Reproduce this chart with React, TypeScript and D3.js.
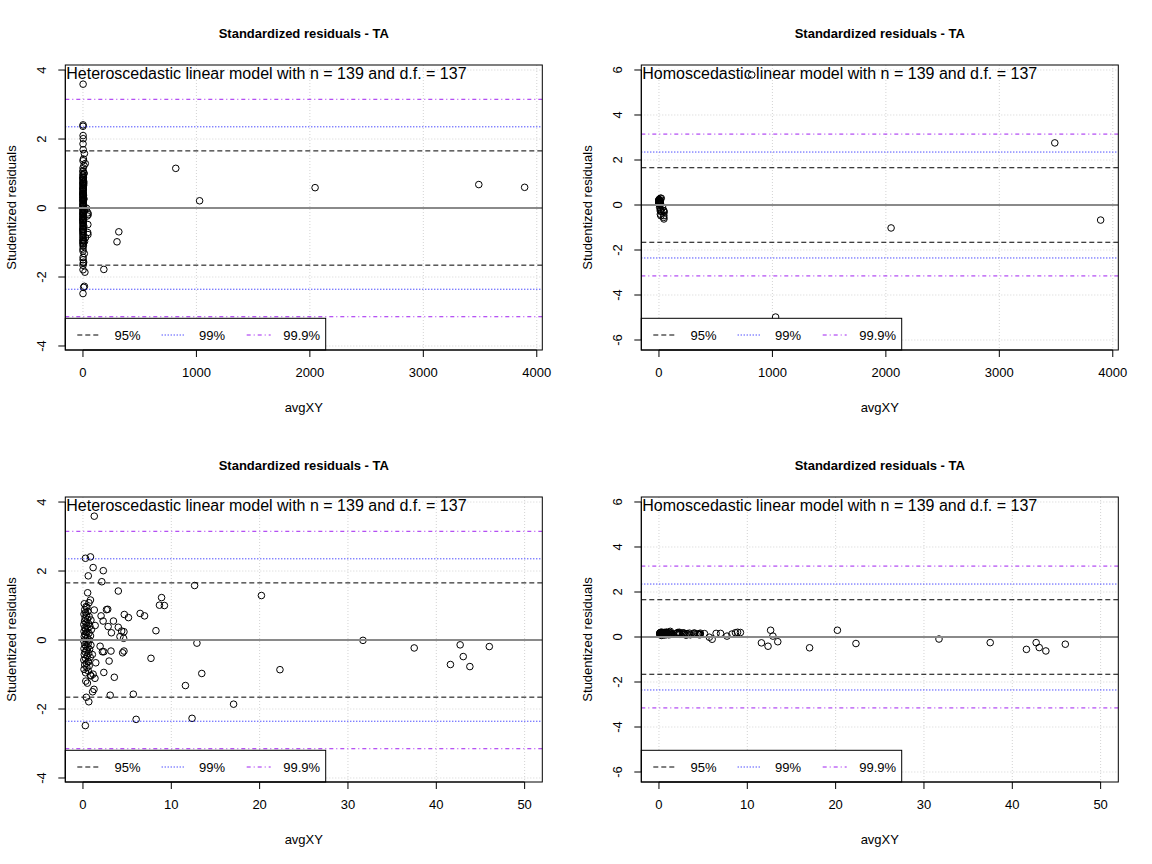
import React from "react";
import * as d3 from "d3";

// ---------- data ----------
const avgXY = [
  184, 300, 316, 818, 1028, 2046, 3489, 3893,
  4.0, 12.64, 8.9, 8.66, 9.22, 6.47, 6.97, 4.68, 5.15, 3.45, 8.26, 4.0, 2.85, 3.22, 4.38, 4.64, 4.19, 4.6, 12.9, 3.17, 4.49, 4.64, 7.7, 2.96, 3.55, 11.6, 5.7, 3.08, 6.02, 12.35, 20.2, 13.45, 22.3, 17.05, 31.7, 37.5, 42.7, 46.0, 43.05, 41.6, 43.8,
  2.3, 2.13, 2.05, 2.28, 1.94, 2.2, 2.36, 2.36, 2.66, 2.8,
  1.28, 0.28, 0.85, 1.15, 0.6, 0.53, 0.85, 0.68, 0.35, 1.28, 0.3, 1.38, 1.06, 0.6, 1.45, 1.15, 0.9, 1.36, 0.32, 0.5, 1.25, 1.09, 0.38, 0.66, 0.27,
  0.15, 0.45, 0.2, 0.55, 0.12, 0.4, 0.7, 0.25, 0.5, 0.9, 0.18, 0.35, 0.62, 0.1, 0.42, 0.78, 0.22, 0.55, 0.3, 0.95, 0.12, 0.45, 0.68, 0.25, 0.85, 0.15, 0.5, 0.35, 0.72, 0.1, 0.45, 0.6, 0.2, 0.9, 0.32, 0.55, 0.12, 0.75, 0.4, 0.25, 0.65, 0.15, 0.48, 0.82, 0.3, 0.1, 0.58, 0.38, 0.2, 0.7, 0.45, 0.12, 0.6, 0.3, 0.85,
];
const residHetero = [
  -1.78, -0.98, -0.69, 1.15, 0.21, 0.59, 0.68, 0.6,
  1.42, 1.58, 1.23, 1.01, 1.0, 0.77, 0.7, 0.74, 0.65, 0.55, 0.27, 0.37, 0.39, 0.21, 0.26, 0.24, 0.1, 0.05, -0.09, -0.32, -0.37, -0.32, -0.53, -0.61, -1.08, -1.32, -1.57, -1.6, -2.3, -2.27, 1.29, -0.97, -0.86, -1.86, -0.01, -0.23, -0.14, -0.19, -0.48, -0.71, -0.77,
  2.01, 1.69, 0.7, 0.55, -0.18, -0.34, -0.34, -0.94, 0.88, 0.89,
  3.59, 2.37, 2.41, 2.1, 1.86, 1.37, 1.16, 1.08, 0.97, 0.87, 0.8, 0.42, -0.42, -0.63, -0.66, -0.99, -1.04, -1.11, -1.19, -1.25, -1.43, -1.5, -1.66, -1.79, -2.48,
  1.05, 0.95, 0.88, 0.83, 0.75, 0.72, 0.68, 0.64, 0.6, 0.58, 0.55, 0.5, 0.48, 0.45, 0.42, 0.4, 0.36, 0.33, 0.3, 0.3, 0.25, 0.22, 0.2, 0.16, 0.12, 0.1, 0.07, 0.03, 0.0, -0.03, -0.06, -0.1, -0.13, -0.15, -0.18, -0.22, -0.25, -0.27, -0.3, -0.35, -0.38, -0.42, -0.46, -0.5, -0.54, -0.58, -0.62, -0.68, -0.72, -0.75, -0.8, -0.85, -0.9, -0.95, -1.02,
];
const residHomo = [
  null, null, null, 5.78, -4.98, -1.02, 2.76, -0.67,
  0.18, 0.3, 0.21, 0.19, 0.2, 0.16, 0.16, 0.17, 0.15, 0.17, 0.13, 0.15, 0.16, 0.15, 0.14, 0.13, 0.13, 0.12, 0.04, 0.13, 0.11, 0.1, 0.04, 0.12, 0.1, -0.26, -0.01, 0.08, -0.1, -0.41, 0.3, -0.21, -0.29, -0.48, -0.09, -0.25, -0.25, -0.32, -0.47, -0.55, -0.62,
  0.21, 0.2, 0.17, 0.17, 0.15, 0.14, 0.14, 0.12, 0.18, 0.18,
  0.25, 0.22, 0.22, 0.21, 0.2, 0.19, 0.19, 0.19, 0.18, 0.18, 0.18, 0.17, 0.14, 0.14, 0.13, 0.12, 0.12, 0.12, 0.12, 0.11, 0.11, 0.1, 0.1, 0.09, 0.07,
  0.19, 0.19, 0.19, 0.18, 0.18, 0.18, 0.18, 0.18, 0.17, 0.17, 0.17, 0.17, 0.17, 0.17, 0.17, 0.17, 0.16, 0.16, 0.16, 0.16, 0.16, 0.16, 0.16, 0.16, 0.15, 0.15, 0.15, 0.15, 0.15, 0.15, 0.15, 0.15, 0.14, 0.14, 0.14, 0.14, 0.14, 0.14, 0.14, 0.14, 0.13, 0.13, 0.13, 0.13, 0.13, 0.13, 0.13, 0.12, 0.12, 0.12, 0.12, 0.12, 0.11, 0.11, 0.11,
];

const xLimFull = [0, 3893];
const xLimZoom = [0, 50];
const yLimHetero = [-3.81, 3.84];
const yLimHomo = [-5.975, 5.753];
const xTicksFull = [0, 1000, 2000, 3000, 4000];
const xTicksZoom = [0, 10, 20, 30, 40, 50];
const yTicksHetero = [-4, -2, 0, 2, 4];
const yTicksHomo = [-6, -4, -2, 0, 2, 4, 6];
const critLabels = ["95%", "99%", "99.9%"];
const critValues = [1.656, 2.354, 3.152];
const mainTitle = "Standardized residuals - TA";
const xLabel = "avgXY";
const yLabel = "Studentized residuals";
const heteroText = "Heteroscedastic linear model with n = 139 and d.f. = 137";
const homoText = "Homoscedastic linear model with n = 139 and d.f. = 137";

// ---------- styling ----------
const FONT = "'Liberation Sans', Arial, Helvetica, sans-serif";
const critStyles = [
  { stroke: "#000000", dash: "5,3" },
  { stroke: "#0000FF", dash: "1,2" },
  { stroke: "#A020F0", dash: "4,3,1,3" },
];
const L = 65.3, R = 542.3, T = 65, B = 350;

const ext = (lim: number[]) => {
  const d = (lim[1] - lim[0]) * 0.04;
  return [lim[0] - d, lim[1] + d];
};

type PanelProps = {
  id: string; ox: number; oy: number; xlim: number[]; ylim: number[];
  xTicks: number[]; yTicks: number[]; yVals: (number | null)[]; text: string;
};

function Panel({ id, ox, oy, xlim, ylim, xTicks, yTicks, yVals, text }: PanelProps) {
  const x = d3.scaleLinear().domain(ext(xlim)).range([L, R]);
  const y = d3.scaleLinear().domain(ext(ylim)).range([B, T]);
  const pts = avgXY
    .map((v, i) => ({ x: v, y: yVals[i] }))
    .filter((p) => p.y !== null && p.y !== undefined) as { x: number; y: number }[];
  const clip = `clip-${id}`;
  const legY = 318.3, legH = B - legY, legW = 260.4;
  const legRowY = 335;
  const segs = [[77.3, 99, 114.5], [161.7, 184.3, 199], [246.7, 270.7, 283.3]];
  return (
    <g transform={`translate(${ox},${oy})`} fontFamily={FONT}>
      <defs>
        <clipPath id={clip}>
          <rect x={L} y={T} width={R - L} height={B - T} />
        </clipPath>
      </defs>
      <text x={(L + R) / 2} y={37.5} textAnchor="middle" fontWeight="bold" fontSize={13}>
        {mainTitle}
      </text>
      <g clipPath={`url(#${clip})`}>
        {xTicks.map((t) => (
          <line key={"gx" + t} x1={x(t)} x2={x(t)} y1={T} y2={B} stroke="#d3d3d3" strokeDasharray="1,2" />
        ))}
        {yTicks.map((t) => (
          <line key={"gy" + t} x1={L} x2={R} y1={y(t)} y2={y(t)} stroke="#d3d3d3" strokeDasharray="1,2" />
        ))}
        {pts.map((p, i) => (
          <circle key={i} cx={x(p.x)} cy={y(p.y)} r={3.3} fill="none" stroke="#000" strokeWidth={1} />
        ))}
        <line x1={L} x2={R} y1={y(0)} y2={y(0)} stroke="#8a8a8a" strokeWidth={2} />
        {critValues.map((c, i) => (
          <g key={"c" + i}>
            <line x1={L} x2={R} y1={y(c)} y2={y(c)} stroke={critStyles[i].stroke} strokeDasharray={critStyles[i].dash} />
            <line x1={L} x2={R} y1={y(-c)} y2={y(-c)} stroke={critStyles[i].stroke} strokeDasharray={critStyles[i].dash} />
          </g>
        ))}
      </g>
      <text x={L + 1} y={78.5} fontSize={16}>{text}</text>
      {/* legend */}
      <rect x={L} y={legY} width={legW} height={legH} fill="#fff" stroke="#000" />
      {critLabels.map((lab, i) => (
        <g key={"l" + i}>
          <line x1={segs[i][0]} x2={segs[i][1]} y1={legRowY} y2={legRowY} stroke={critStyles[i].stroke} strokeDasharray={critStyles[i].dash} />
          <text x={segs[i][2]} y={legRowY + 4.5} fontSize={13}>{lab}</text>
        </g>
      ))}
      <rect x={L} y={T} width={R - L} height={B - T} fill="none" stroke="#000" />
      {/* x axis */}
      <line x1={x(xTicks[0])} x2={x(xTicks[xTicks.length - 1])} y1={B} y2={B} stroke="#000" />
      {xTicks.map((t) => (
        <g key={"xt" + t}>
          <line x1={x(t)} x2={x(t)} y1={B} y2={B + 7} stroke="#000" />
          <text x={x(t)} y={377} textAnchor="middle" fontSize={13}>{t}</text>
        </g>
      ))}
      <text x={(L + R) / 2} y={412} textAnchor="middle" fontSize={13}>{xLabel}</text>
      {/* y axis */}
      <line x1={L} x2={L} y1={y(yTicks[0])} y2={y(yTicks[yTicks.length - 1])} stroke="#000" />
      {yTicks.map((t) => (
        <g key={"yt" + t}>
          <line x1={L - 7} x2={L} y1={y(t)} y2={y(t)} stroke="#000" />
          <text transform={`translate(${45.5},${y(t)}) rotate(-90)`} textAnchor="middle" fontSize={13}>{t}</text>
        </g>
      ))}
      <text transform={`translate(${16},${(T + B) / 2}) rotate(-90)`} textAnchor="middle" fontSize={13}>{yLabel}</text>
    </g>
  );
}

export default function App() {
  return (
    <svg width={1152} height={864} style={{ position: "absolute", left: 0, top: 0, background: "#fff" }}>
      <rect width={1152} height={864} fill="#fff" />
      <Panel id="p1" ox={0} oy={0} xlim={xLimFull} ylim={yLimHetero} xTicks={xTicksFull} yTicks={yTicksHetero} yVals={residHetero} text={heteroText} />
      <Panel id="p2" ox={576} oy={0} xlim={xLimFull} ylim={yLimHomo} xTicks={xTicksFull} yTicks={yTicksHomo} yVals={residHomo} text={homoText} />
      <Panel id="p3" ox={0} oy={432} xlim={xLimZoom} ylim={yLimHetero} xTicks={xTicksZoom} yTicks={yTicksHetero} yVals={residHetero} text={heteroText} />
      <Panel id="p4" ox={576} oy={432} xlim={xLimZoom} ylim={yLimHomo} xTicks={xTicksZoom} yTicks={yTicksHomo} yVals={residHomo} text={homoText} />
    </svg>
  );
}
